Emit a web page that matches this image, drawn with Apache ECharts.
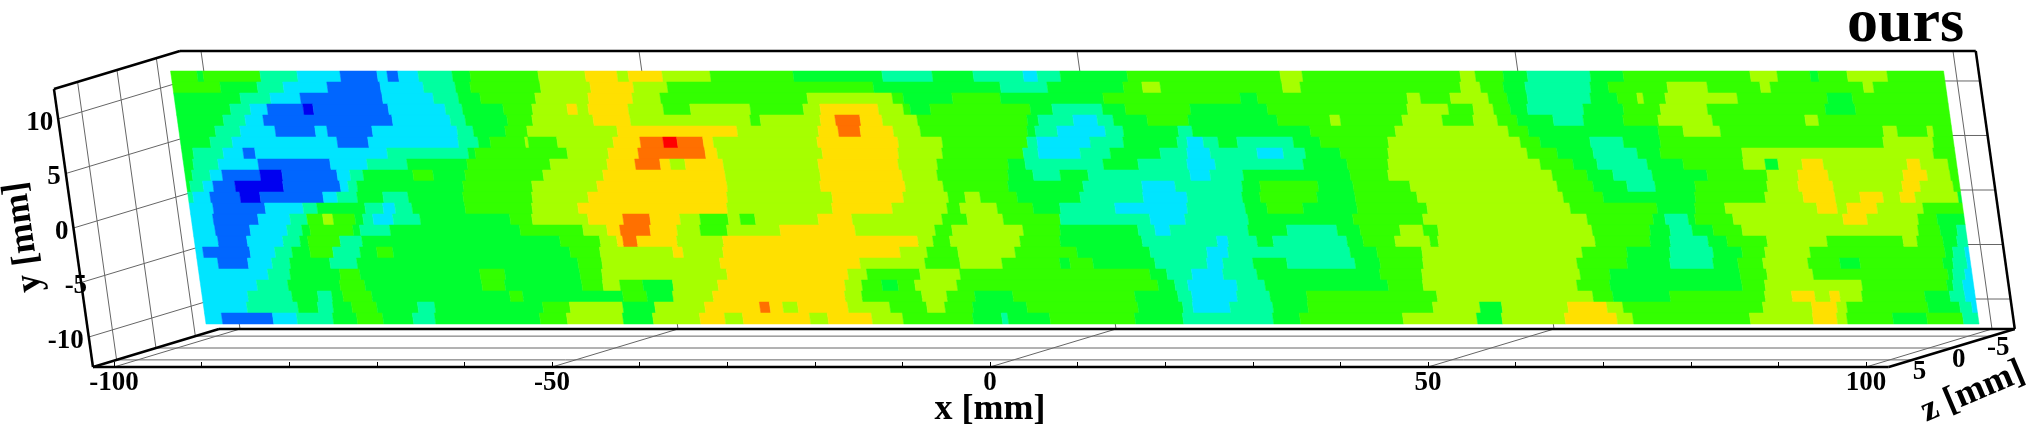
<!DOCTYPE html>
<html>
<head>
<meta charset="utf-8">
<style>html,body{margin:0;padding:0;background:#fff}#c{width:2032px;height:429px}</style>
<script src="https://cdn.jsdelivr.net/npm/echarts@6/dist/echarts.min.js"></script>
</head>
<body>
<div id="c"></div>
<script>
// Contour band colours, lowest to highest
const levelColors = ['#0000f0','#0066ff','#00e5ff','#00ffa0','#00ff30','#33ff00','#a6ff00','#ffe000','#ff7000','#ff0000'];
// Contour bands along each scan row, top to bottom: band, end column, band, end column, ...
const row00 = [5,2.7,4,3.3,5,9,3,12.7,2,17,1,20.7,2,21.7,1,22.8,2,24.8,3,28.2,4,30,5,36.8,6,41.5,7,44.7,6,45.8,7,49.2,6,54,5,62.3,4,71.2,3,76.2,4,80.3,3,85.3,2,86.7,3,89,4,95.7,5,111,6,113.2,5,129,6,130.5,5,133.3,4,135.7,3,142,4,145.3,5,158,6,160.7,5,164,4,164.8,5,167.7,6,171.7,5,999];
const row01 = [5,5,4,8.7,3,11.3,2,15.7,1,21,2,25.3,3,28.5,4,30,5,37,6,42,7,46.3,6,49.7,5,70.3,4,83,3,87.7,4,95.3,5,97.2,6,99,5,111.2,6,113,5,129,6,131,5,133.3,4,135.5,3,142,4,143.8,5,149.7,6,153.7,5,159,6,160,5,169.3,6,170.3,5,999];
const row02 = [4,7,3,10,2,13,1,21.2,2,26.3,3,28.8,4,31,5,36.5,6,41.8,7,46.2,6,49,5,63.7,6,72.2,5,73.3,4,78.2,5,83,4,93.3,5,107,4,108.7,5,123.7,6,125,5,128,6,131.8,5,133.7,4,135.7,3,142,4,144.7,5,146.7,6,147.3,5,149.5,6,156.7,5,165.7,4,168.2,5,999];
const row03 = [4,6,3,8,2,9.7,1,13.3,0,14.3,1,21.8,2,27.5,3,29.2,4,33.3,5,36.2,6,39.7,7,40.7,6,41.8,7,45.8,6,49.3,5,52,6,58,5,63.3,6,65,7,70.8,6,73.3,5,74,4,76,5,86,4,88.2,3,93.2,4,95.5,5,102,4,109.7,5,123.7,6,127.8,5,130.3,6,132.3,5,134,4,135.7,3,141.3,4,145.3,5,149,6,153.7,5,165.5,4,168.5,5,999];
const row04 = [4,5.3,3,7.5,2,9.3,1,22.2,2,28,3,29.5,4,33.7,5,36.2,6,42.3,7,46,6,58,5,59,6,65,7,66.5,8,69,7,71.2,6,74.7,5,85.7,4,86.8,3,90.3,2,92.7,3,94.3,4,97.7,5,101.8,4,110.7,5,116,6,117,5,123.2,6,127.2,5,130.3,6,132.7,5,134.7,4,138.3,3,141.3,4,145.3,5,148.8,6,154.2,5,163.5,6,164.8,5,999];
const row05 = [4,4.5,3,7,2,10.5,1,14.5,2,15.7,1,20.2,2,28.7,3,30.3,4,33.5,5,35.7,6,44.7,7,56.7,6,64.8,7,66.8,8,69,7,72.3,6,75,5,85.7,4,86.5,3,88.7,2,93.5,3,95.3,4,100.8,3,102.2,4,114,5,122.5,6,133.8,5,135.8,4,148.8,5,151.3,6,155,5,171.3,6,172.7,5,175.7,6,176.3,5,999];
const row06 = [4,4,3,6.2,2,16.7,1,19.8,2,28.8,3,30.8,4,32,5,35.5,6,35.8,5,38.7,6,44.3,7,47,8,49.3,9,50.7,8,53.3,7,54.3,6,64.7,7,72.8,6,77.2,5,85.7,3,86.7,2,92,3,95.3,4,100.7,3,101.7,2,103.3,3,104.8,4,106.7,3,112.3,4,115,5,121.8,6,135,5,137,4,142,3,145.3,4,149,5,171.3,6,176.3,5,999];
const row07 = [4,2.3,3,5.3,2,7.3,1,8.5,2,21.7,3,29.8,4,30.5,5,39.7,6,43.8,7,46.8,8,53.5,7,54.7,6,65.2,7,72.8,6,77.2,5,85.3,3,86.8,2,91,3,94,4,99,3,101.7,2,104,3,108.7,2,111.3,3,113.5,4,117,5,121.8,6,135.7,5,138.7,4,142.3,3,146.7,4,149,5,157.2,6,176.3,5,999];
const row08 = [4,2.3,3,4.8,2,8.8,1,16,2,19.7,3,23.7,4,29.7,5,38,6,43.7,7,46.5,8,49,7,50,6,51.5,7,55.3,6,64.8,7,72.8,6,76.7,5,83.8,4,85.5,3,93.3,4,96.8,3,101.7,2,104.5,3,113.3,4,117.7,5,121.8,6,137,5,140.3,4,142.7,3,147.7,4,151.3,5,157.3,6,159.5,4,160.8,6,163.2,7,165.3,6,173.7,7,175,6,177.8,5,999];
const row09 = [4,2.2,3,4,2,5.2,1,9,0,11.2,1,16.7,2,18,3,19.3,4,24.3,5,26.3,4,29.5,5,37.3,6,43.3,7,55.5,6,65,7,73.2,6,76.7,5,83.8,4,86.3,3,89,4,91.8,3,102,2,104,3,107.3,4,118,5,121.8,6,138.2,5,141.7,4,144.3,3,148.2,4,153.7,5,159.7,6,162.8,7,165.8,6,173.3,7,175.7,6,178,5,999];
const row10 = [4,2,3,3.3,2,4.3,1,6.5,0,11.3,1,17,2,17.8,3,18.7,4,29.3,5,36.2,6,42.7,7,55.7,6,65,7,73.5,6,77.3,5,83.8,4,91.3,3,97.2,2,100.5,3,107.2,4,109,5,114.8,4,118.3,5,124,6,138.7,5,142.3,4,145.7,3,148.5,4,152.5,5,159.7,6,162.8,7,166.3,6,173.2,7,175,6,178.3,5,999];
const row11 = [3,2.3,2,4,1,7,0,9,1,15.3,2,16.7,3,18.7,4,21.3,3,23.8,4,29.3,5,36.2,6,41.8,7,55.7,6,66.2,7,73.3,6,77.8,5,79.5,6,81,5,84.7,4,91,3,97.3,2,101.7,3,107.2,4,109,5,114.7,4,118.5,5,124.7,6,139.3,5,143.3,4,152.5,5,159.5,6,163.3,7,166.5,6,169,7,171.3,6,173,7,174.5,6,178.8,4,999];
const row12 = [2,4.3,1,9.5,2,13.3,3,14.7,4,19.5,3,21.3,2,22.5,3,24.2,4,29.5,5,36.2,6,40.8,7,55.7,6,66.2,7,72.2,6,77.7,5,79,6,82.7,5,86.3,4,89,3,94.5,2,101.7,3,107.5,4,109.7,5,113.3,4,118.7,5,125.7,6,140,5,148.7,4,152.5,5,155.5,6,164.7,7,166.7,6,167.7,7,170.7,6,175.3,5,999];
const row13 = [2,4.3,1,8.8,2,12,3,13.7,5,15.3,6,16.3,5,18.5,4,19.3,3,20.3,2,22.3,3,25,4,34,5,36.2,6,41.8,7,45.3,8,48,7,51,6,53,5,55.8,6,57,5,58.5,6,64.8,7,68.2,6,77.2,5,79.7,6,83.3,5,89,3,98,2,101.5,3,107.8,4,118.3,5,125.3,6,141.7,5,148.3,4,149.5,3,151.8,4,152.5,5,156.3,6,167.3,7,169.7,6,174.8,5,176.7,4,999];
const row14 = [2,4.5,1,8,2,11.7,3,13.2,4,14,5,18.3,4,19,3,22,4,35,5,41.3,6,43.7,7,45,8,48,7,50.7,6,53,5,55.7,6,61,7,68.5,6,76.5,5,78.2,6,85.3,5,89,4,96.8,3,98.5,2,100,3,107.8,4,111.7,3,116.7,4,119,5,123,6,125.3,5,126.8,6,142.2,5,148,4,150,3,152.2,4,154.3,5,157.2,6,174.8,5,177,4,178.7,3,999];
const row15 = [2,4.8,1,7.7,2,11.3,3,13,4,13.8,5,17,3,19.2,4,39,5,43,6,44.7,7,45.3,8,46.7,7,50.7,6,55.3,7,74.8,6,76.3,5,78,6,85,5,89,4,97.2,3,104.7,2,105.8,3,108.7,4,110.3,3,117.7,4,119.3,5,122.5,6,126,5,126.8,6,142.5,5,148,4,150,3,153.8,4,155.7,5,159.7,6,165.7,5,173.3,6,174.7,5,177.3,4,178.7,3,999];
const row16 = [2,3.3,1,8,2,10.5,3,12.2,4,14,5,16.3,3,19,4,20.7,5,22.3,4,40,5,43,6,50.3,7,51.3,6,55.3,7,73,6,75.7,5,78.8,6,84.5,5,90.7,4,98,3,103.7,2,105.8,3,118,4,120.7,5,125.2,6,141.2,5,145.7,4,150,3,154.3,4,157.2,5,159.5,6,164,5,177.5,4,178.3,3,179.5,2,999];
const row17 = [2,4.8,1,7.8,2,10.2,3,12,4,16,3,18.7,4,40.8,5,43.2,6,55,7,69,6,75.5,5,79,6,83.2,5,89,4,90,5,92.3,4,98.5,3,103.7,2,105.3,3,108.3,4,111.7,3,118.5,4,121,5,125.3,6,140.7,5,145.7,4,150,3,154.3,4,156.8,5,159.3,6,163.8,5,167,4,169,5,177.3,4,178.3,3,179.7,2,999];
const row18 = [2,9.8,3,12,4,17,5,19,4,31,5,33.5,4,41,5,43.2,6,55.7,7,67.8,6,69.7,5,75,6,79,5,98,4,99.7,3,102.2,2,105.3,3,108.7,4,121,5,125.2,6,141,5,144,4,157,5,159.7,6,164.3,5,177.8,4,178.3,3,179.5,2,999];
const row19 = [2,8.7,3,11.8,4,17,5,19.5,4,31.2,5,33.5,4,41.2,5,43.3,6,45,5,47.3,4,50.3,6,54.8,7,67.5,6,69.2,5,71.2,4,72.8,5,74.5,6,78.7,5,98.8,4,100.5,3,101.8,2,106.7,3,109.5,4,121.8,5,125.3,6,140.7,5,144,4,157.2,5,159.5,6,169.2,5,177.7,4,178.3,3,179.3,2,999];
const row20 = [2,7.8,3,12.2,4,14.8,3,16.2,4,17.3,5,20.2,4,34,5,35.3,4,45.3,5,47.7,4,50.3,6,54.3,7,67.5,6,69.2,5,75.2,6,77.7,5,80.5,4,84.3,5,96.5,4,100.8,3,102.2,2,106.7,3,110,4,113.7,5,126.7,6,142.3,5,144.3,4,150,5,159.5,6,162.2,7,164.5,6,166,7,167,6,169.2,5,175.5,4,178,3,179.5,2,999];
const row21 = [2,7.7,3,12.8,4,14.8,3,16.3,4,18.2,5,20.7,4,24.8,3,26.5,4,37.3,5,40,6,45.3,4,48.5,6,53.5,7,59,8,60,7,61.3,6,62.8,7,67.8,6,72,5,75.7,6,77.5,5,80.3,4,85.7,5,96.8,4,101.3,3,102.3,2,106,3,110.3,4,113.8,5,126.3,6,131,4,133.2,6,139.8,7,143.7,6,145.3,5,159.3,6,164.2,7,166.7,6,167.7,5,175.8,4,179,3,180.2,2,999];
const row22 = [2,5.2,1,10.3,2,12.7,3,16.3,4,18.7,5,21.3,4,24.3,3,26.5,4,37,5,39.7,6,45.3,4,48.3,6,53,7,55.5,6,57.3,7,64,6,65.8,7,70.2,6,73.3,5,80.3,4,83.2,3,83.8,4,88,5,96.5,4,101.3,3,110.3,4,113,5,123.3,6,130.7,4,133.2,6,139.5,7,144.7,6,146.3,5,158,6,164.3,7,166.7,6,167.7,5,172.3,4,175.7,5,179.3,3,999];
const scanRows = [row00,row01,row02,row03,row04,row05,row06,row07,row08,row09,row10,row11,row12,row13,row14,row15,row16,row17,row18,row19,row20,row21,row22];

// Axis values
const xTicks = [-100,-50,0,50,100];
const yTicks = [10,5,0,-5,-10];
const zTicks = [5,0,-5];

// Box and measured plane extents, in mm
const boxX = [-102.4, 102.6], boxY = [-12.75, 12.75], boxZ = [-8, 8];
const plateX = [-96.3, 106.1], plateY = [-10.55, 12.66], plateZ = 0;
// Oblique view: screen px per mm
const shearX = 1.53, depthX = 7.875, depthY = 2.375, xPxPerMm = 8.76;
const colPx = 10, rowSkewPx = 1.565;

function project(api, x, y, z) {
  const p = api.coord([x, y]);
  return [p[0] - (y - boxY[0]) * shearX + (boxZ[1] - z) * depthX, p[1] + (z - boxZ[1]) * depthY];
}

// Plate cells
const plateCells = [];
const rowH = (plateY[1] - plateY[0]) / scanRows.length;
scanRows.forEach((row, r) => {
  const toX = c => plateX[0] + (c * colPx - (r + 0.5) * rowSkewPx) / xPxPerMm;
  let start = plateX[0];
  for (let i = 0; i < row.length; i += 2) {
    const end = Math.min(Math.max(toX(row[i + 1]), plateX[0]), plateX[1]);
    if (end > start) plateCells.push([start, plateY[1] - r * rowH, end, plateY[1] - (r + 1) * rowH, row[i]]);
    start = Math.max(start, end);
  }
});

// Box lines: [x1,y1,z1,x2,y2,z2,thick]
const [x0, x1] = boxX, [y0, y1] = boxY, [zb, zf] = boxZ;
const thinLines = [];
yTicks.forEach(v => { thinLines.push([x0,v,zf,x0,v,zb,0]); thinLines.push([x0,v,zb,x1,v,zb,0]); });
zTicks.forEach(v => { thinLines.push([x0,y0,v,x0,y1,v,0]); thinLines.push([x0,y0,v,x1,y0,v,0]); });
xTicks.forEach(v => { thinLines.push([v,y0,zf,v,y0,zb,0]); thinLines.push([v,y0,zb,v,y1,zb,0]); });
const thickLines = [
  [x0,y1,zb,x1,y1,zb,1],[x0,y0,zb,x1,y0,zb,1],[x0,y0,zf,x1,y0,zf,1],
  [x0,y0,zf,x0,y1,zf,1],[x0,y1,zf,x0,y1,zb,1],[x0,y0,zf,x0,y0,zb,1],
  [x1,y0,zb,x1,y1,zb,1],[x1,y0,zf,x1,y0,zb,1]
];
const labelFont = 'bold 27px "Liberation Serif"';
const nameFont = 'bold 36px "Liberation Serif"';

function lineSeries(data, z) {
  return {
    type: 'custom', coordinateSystem: 'cartesian2d', silent: true, clip: false, z: z,
    encode: {x: 0, y: 1}, data: data,
    renderItem: (params, api) => {
      const a = project(api, api.value(0), api.value(1), api.value(2));
      const b = project(api, api.value(3), api.value(4), api.value(5));
      const thick = api.value(6);
      return {type: 'line', shape: {x1: a[0], y1: a[1], x2: b[0], y2: b[1]},
        style: {stroke: thick ? '#000' : '#666', lineWidth: thick ? 2.5 : 1}};
    }
  };
}

const option = {
  animation: false,
  backgroundColor: '#fff',
  title: {text: 'ours', left: 1847, top: -6, padding: 0,
    textStyle: {fontFamily: 'Liberation Serif', fontWeight: 'bold', fontSize: 62, color: '#000'}},
  grid: {left: 114, top: 89, width: 1752, height: 278, containLabel: false, outerBoundsMode: 'none'},
  xAxis: {
    type: 'value', min: -100, max: 100, interval: 10,
    name: 'x [mm]', nameLocation: 'middle', nameGap: 43, nameMoveOverlap: false,
    nameTextStyle: {fontFamily: 'Liberation Serif', fontWeight: 'bold', fontSize: 36, color: '#000', verticalAlign: 'middle'},
    axisLine: {show: false, onZero: false},
    axisTick: {show: true, inside: true, length: 5, lineStyle: {color: '#000', width: 1}},
    axisLabel: {margin: 3, fontFamily: 'Liberation Serif', fontWeight: 'bold', fontSize: 27, color: '#000',
      formatter: v => xTicks.includes(v) ? String(v) : ''},
    splitLine: {show: false}
  },
  yAxis: {
    type: 'value', min: boxY[0], max: boxY[1],
    axisLine: {show: false, onZero: false}, axisTick: {show: false}, axisLabel: {show: false}, splitLine: {show: false}
  },
  series: [
    lineSeries(thinLines, 1),
    lineSeries(thickLines, 2),
    {
      type: 'custom', coordinateSystem: 'cartesian2d', silent: true, clip: false, z: 3,
      encode: {x: [0, 2], y: [1, 3]}, data: plateCells,
      renderItem: (params, api) => {
        const c = levelColors[api.value(4)];
        const xa = api.value(0), ya = api.value(1), xb = api.value(2), yb = api.value(3);
        return {type: 'polygon', shape: {points: [
          project(api, xa, ya, plateZ), project(api, xb, ya, plateZ),
          project(api, xb, yb, plateZ), project(api, xa, yb, plateZ)]},
          style: {fill: c, stroke: c, lineWidth: 0.5}};
      }
    },
    {
      type: 'custom', coordinateSystem: 'cartesian2d', silent: true, clip: false, z: 4,
      encode: {x: 0, y: 1}, data: yTicks.map(v => [x0, v]),
      renderItem: (params, api) => {
        const v = api.value(1);
        const p = project(api, api.value(0), v, zf);
        return {type: 'text', style: {x: p[0] + (v === -5 ? 6 : -5), y: p[1] + 4, text: String(v), font: labelFont, fill: '#000', align: 'right', verticalAlign: 'middle'}};
      }
    },
    {
      type: 'custom', coordinateSystem: 'cartesian2d', silent: true, clip: false, z: 4,
      encode: {x: 0, y: 1}, data: zTicks.map(v => [x1, y0, v]),
      renderItem: (params, api) => {
        const p = project(api, api.value(0), api.value(1), api.value(2));
        return {type: 'text', style: {x: p[0] + 7, y: p[1] + 12, text: String(api.value(2)), font: labelFont, fill: '#000', align: 'center', verticalAlign: 'middle'}};
      }
    },
    {
      type: 'custom', coordinateSystem: 'cartesian2d', silent: true, clip: false, z: 4,
      encode: {x: 0, y: 1}, data: [[x1, y0, 0]],
      renderItem: (params, api) => {
        const p = project(api, api.value(0), api.value(1), api.value(2));
        return {type: 'text', x: p[0] + 21, y: p[1] + 44, rotation: 23 * Math.PI / 180,
          style: {x: 0, y: 0, text: 'z [mm]', font: nameFont, fill: '#000', align: 'center', verticalAlign: 'middle'}};
      }
    },
    {
      type: 'custom', coordinateSystem: 'cartesian2d', silent: true, clip: false, z: 4,
      encode: {x: 0, y: 1}, data: [[x0, 0]],
      renderItem: (params, api) => {
        const p = project(api, api.value(0), api.value(1), zf);
        return {type: 'text', x: p[0] - 50, y: p[1] + 9, rotation: 98 * Math.PI / 180,
          style: {x: 0, y: 0, text: 'y [mm]', font: nameFont, fill: '#000', align: 'center', verticalAlign: 'middle'}};
      }
    }
  ]
};
echarts.init(document.getElementById('c'), null, {renderer: 'canvas'}).setOption(option);
</script>
</body>
</html>
